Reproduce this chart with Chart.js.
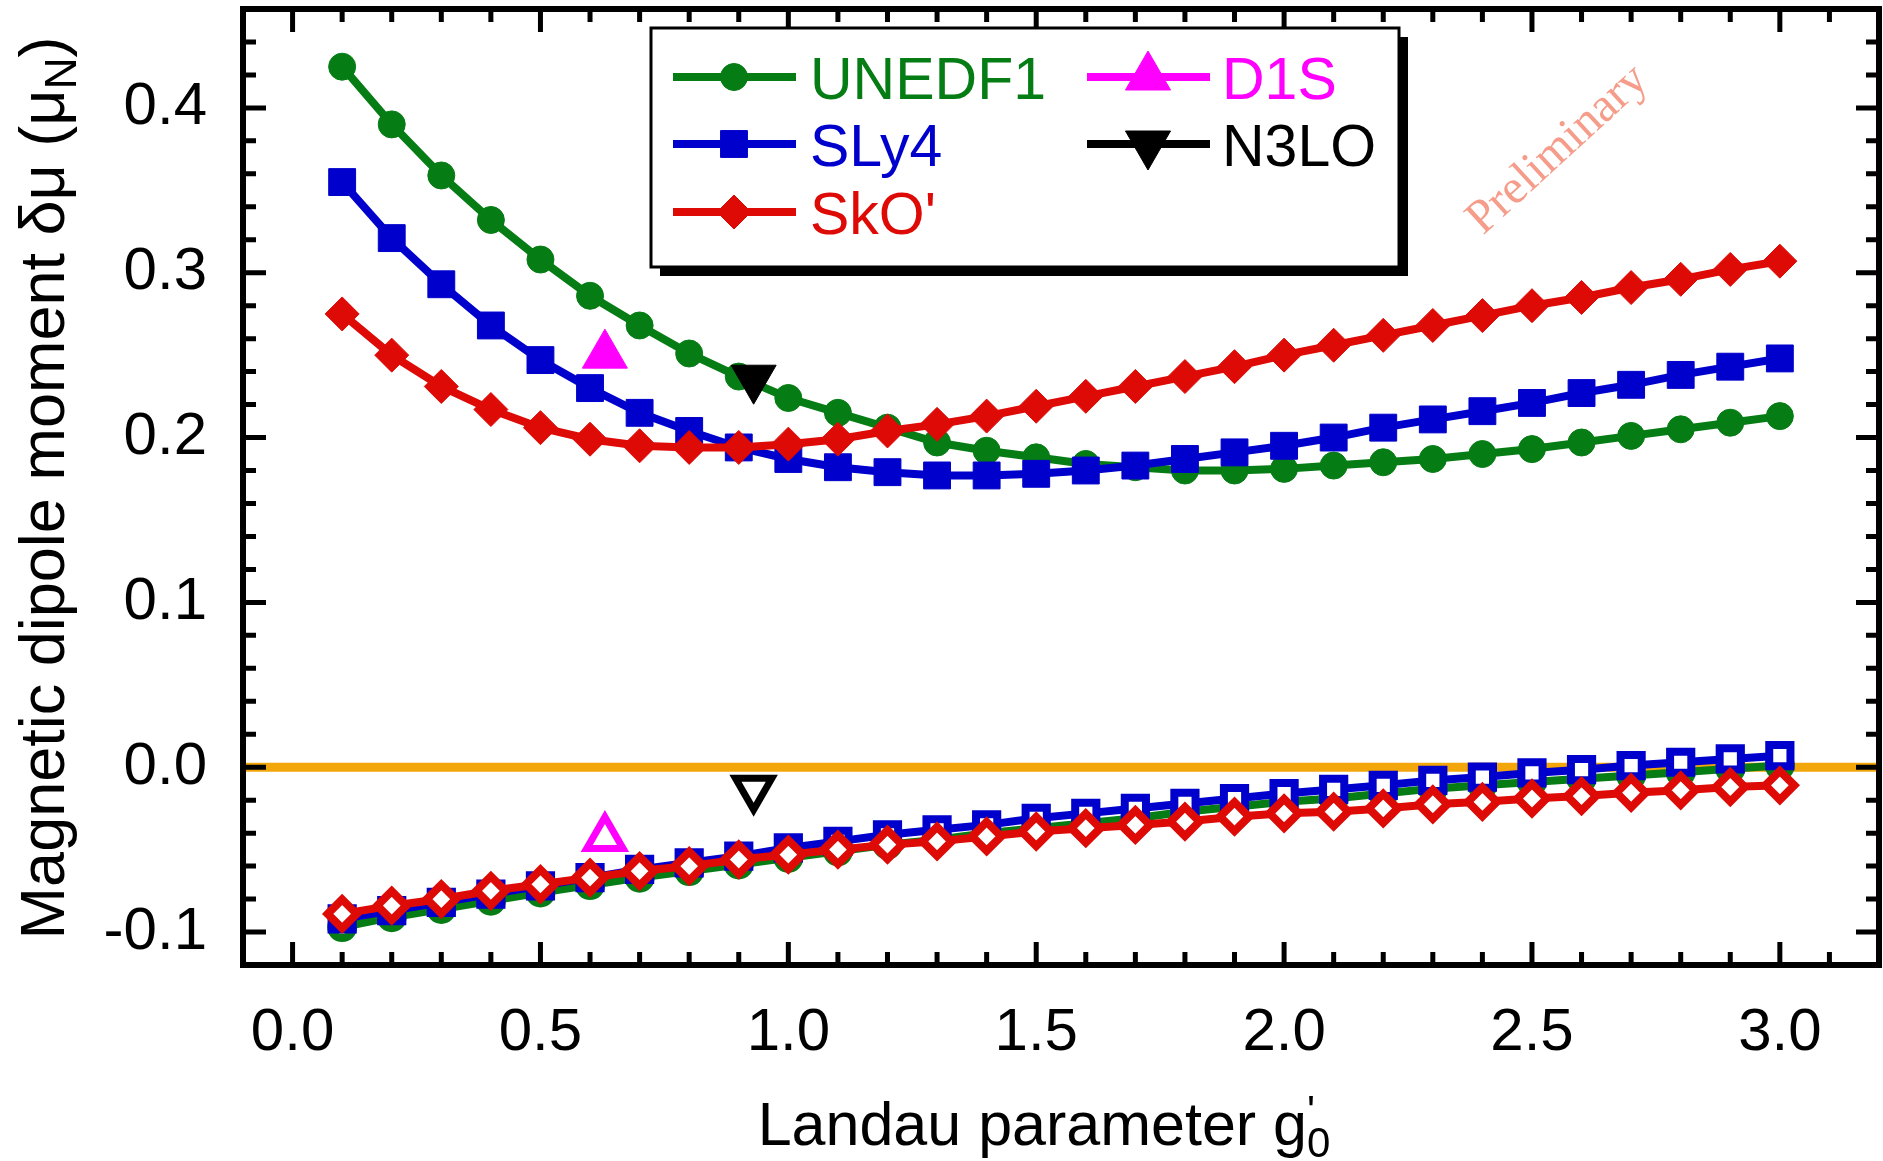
<!DOCTYPE html>
<html lang="en">
<head>
<meta charset="UTF-8">
<title>Magnetic dipole moment vs Landau parameter</title>
<script src="https://cdn.jsdelivr.net/npm/chart.js@4.4.1/dist/chart.umd.min.js"></script>
<style>
    html, body { margin: 0; padding: 0; background: #fff; }
</style>
</head>
<body>
<canvas id="momentChart" width="1883" height="1161"></canvas>
<script>
    // Landau parameter g0' grid of the Skyrme curves
    const gValues = [0.1, 0.2, 0.3, 0.4, 0.5, 0.6, 0.7, 0.8, 0.9, 1.0,
                     1.1, 1.2, 1.3, 1.4, 1.5, 1.6, 1.7, 1.8, 1.9, 2.0,
                     2.1, 2.2, 2.3, 2.4, 2.5, 2.6, 2.7, 2.8, 2.9, 3.0];

    // upper branch (filled symbols)
    const unedf1Upper = [0.425, 0.390, 0.359, 0.332, 0.308, 0.286, 0.268, 0.251, 0.237, 0.224,
                         0.215, 0.206, 0.197, 0.192, 0.188, 0.184, 0.182, 0.180, 0.180, 0.181,
                         0.183, 0.185, 0.187, 0.190, 0.193, 0.197, 0.201, 0.205, 0.209, 0.213];
    const sly4Upper = [0.355, 0.321, 0.293, 0.268, 0.247, 0.230, 0.215, 0.204, 0.194, 0.187,
                       0.182, 0.179, 0.177, 0.177, 0.178, 0.180, 0.183, 0.187, 0.191, 0.195,
                       0.200, 0.206, 0.211, 0.216, 0.221, 0.227, 0.232, 0.238, 0.243, 0.248];
    const skoUpper = [0.275, 0.250, 0.231, 0.217, 0.206, 0.199, 0.195, 0.194, 0.194, 0.196,
                      0.199, 0.204, 0.208, 0.213, 0.219, 0.225, 0.231, 0.237, 0.243, 0.250,
                      0.256, 0.262, 0.268, 0.274, 0.280, 0.285, 0.291, 0.296, 0.302, 0.307];

    // lower branch (open symbols)
    const unedf1Lower = [-0.097, -0.091, -0.086, -0.081, -0.076, -0.0715, -0.067, -0.063, -0.059, -0.055,
                         -0.051, -0.047, -0.044, -0.040, -0.037, -0.034, -0.031, -0.027, -0.024, -0.021,
                         -0.019, -0.016, -0.013, -0.011, -0.009, -0.007, -0.005, -0.003, -0.001, 0.001];
    const sly4Lower = [-0.092, -0.087, -0.082, -0.077, -0.072, -0.067, -0.062, -0.058, -0.054, -0.049,
                       -0.045, -0.041, -0.038, -0.035, -0.031, -0.028, -0.025, -0.022, -0.019, -0.016,
                       -0.0135, -0.011, -0.008, -0.006, -0.0035, -0.0015, 0.001, 0.003, 0.005, 0.007];
    const skoLower = [-0.089, -0.084, -0.080, -0.075, -0.071, -0.067, -0.063, -0.060, -0.056, -0.053,
                      -0.050, -0.047, -0.045, -0.042, -0.039, -0.037, -0.035, -0.033, -0.030, -0.028,
                      -0.027, -0.025, -0.0225, -0.021, -0.019, -0.0175, -0.0155, -0.014, -0.012, -0.011];

    // single points: D1S and N3LO
    const d1sG = [0.63];
    const d1sValues = [0.250, -0.043];
    const n3loG = [0.93];
    const n3loValues = [0.236, -0.013];

    const xTickValues = [0.0, 0.5, 1.0, 1.5, 2.0, 2.5, 3.0];
    const yTickValues = [-0.1, 0.0, 0.1, 0.2, 0.3, 0.4];

    const GREEN = '#067c14';
    const BLUE = '#0000cc';
    const RED = '#dd0a06';
    const MAGENTA = '#ff00ff';
    const ORANGE = '#f2a60a';
    const FONT = '"Liberation Sans", Arial, sans-serif';

    function toPoints(xs, ys) {
        return ys.map((y, i) => ({x: xs[i], y: y}));
    }

    function curve(label, values, color, style, filled, order, legendPos) {
        const radius = filled
            ? {circle: 13.5, rect: 19, rectRot: 17}[style]
            : {circle: 11, rect: 15, rectRot: 14.5}[style];
        return {
            label: label,
            data: toPoints(gValues, values),
            borderColor: color,
            backgroundColor: color,
            borderWidth: 8,
            pointStyle: style,
            pointRadius: radius,
            pointBorderWidth: filled ? 1 : 8,
            pointBackgroundColor: filled ? color : '#ffffff',
            pointBorderColor: color,
            tension: 0,
            order: order,
            legendPos: legendPos
        };
    }

    function single(label, g, value, color, rotation, filled, legendPos) {
        return {
            label: label,
            data: [{x: g[0], y: value}],
            showLine: false,
            borderColor: color,
            backgroundColor: color,
            pointStyle: 'triangle',
            pointRotation: rotation,
            pointRadius: filled ? 26 : 21,
            pointBorderWidth: filled ? 1 : 7,
            pointBackgroundColor: filled ? color : '#ffffff',
            pointBorderColor: color,
            order: 1,
            legendPos: legendPos
        };
    }

    const datasets = [
        {
            label: 'zero',
            data: [{x: -0.1, y: 0}, {x: 3.2, y: 0}],
            borderColor: ORANGE,
            borderWidth: 9,
            pointRadius: 0,
            order: 10
        },
        curve('UNEDF1', unedf1Lower, GREEN, 'circle', false, 6),
        curve('SLy4', sly4Lower, BLUE, 'rect', false, 5),
        curve("SkO'", skoLower, RED, 'rectRot', false, 4),
        curve('UNEDF1', unedf1Upper, GREEN, 'circle', true, 6, [0, 0]),
        curve('SLy4', sly4Upper, BLUE, 'rect', true, 5, [0, 1]),
        curve("SkO'", skoUpper, RED, 'rectRot', true, 4, [0, 2]),
        single('D1S', d1sG, d1sValues[0], MAGENTA, 0, true, [1, 0]),
        single('D1S', d1sG, d1sValues[1], MAGENTA, 0, false),
        single('N3LO', n3loG, n3loValues[0], '#000000', 180, true, [1, 1]),
        single('N3LO', n3loG, n3loValues[1], '#000000', 180, false)
    ];

    // frame with inward minor/major ticks on all four sides
    const framePlugin = {
        id: 'frame',
        afterDatasetsDraw(chart) {
            const {ctx, chartArea: a, scales: {x, y}} = chart;
            ctx.save();
            ctx.strokeStyle = '#000';
            ctx.lineWidth = 5;
            ctx.beginPath();
            for (let k = -1; k <= 32; k++) {
                const px = x.getPixelForValue(k / 10);
                const len = (k % 5 === 0 ? 20 : 10) + 3;
                ctx.moveTo(px, a.bottom); ctx.lineTo(px, a.bottom - len);
                ctx.moveTo(px, a.top); ctx.lineTo(px, a.top + len);
            }
            for (let k = -6; k <= 23; k++) {
                const py = y.getPixelForValue(k * 0.02);
                const len = (k % 5 === 0 ? 20 : 10) + 3;
                ctx.moveTo(a.left, py); ctx.lineTo(a.left + len, py);
                ctx.moveTo(a.right, py); ctx.lineTo(a.right - len, py);
            }
            ctx.stroke();
            ctx.lineWidth = 6;
            ctx.strokeRect(a.left, a.top, a.right - a.left, a.bottom - a.top);
            ctx.restore();
        }
    };

    function drawRich(ctx, parts, x, y) {
        let cx = x;
        parts.forEach(p => {
            ctx.font = p.size + 'px ' + FONT;
            ctx.fillText(p.text, cx, y + (p.dy || 0));
            if (!p.stack) cx += ctx.measureText(p.text).width;
        });
    }

    function richWidth(ctx, parts) {
        let w = 0;
        parts.forEach(p => {
            ctx.font = p.size + 'px ' + FONT;
            if (!p.stack) w += ctx.measureText(p.text).width;
        });
        return w;
    }

    // axis titles, legend box and watermark
    const decorPlugin = {
        id: 'decor',
        afterDraw(chart) {
            const ctx = chart.ctx;
            ctx.save();
            ctx.fillStyle = '#000';
            ctx.textBaseline = 'alphabetic';
            ctx.textAlign = 'left';

            const yTitle = [
                {text: 'Magnetic dipole moment δμ (μ', size: 63},
                {text: 'N', size: 44, dy: 12},
                {text: ')', size: 63}
            ];
            ctx.save();
            ctx.translate(64, 488);
            ctx.rotate(-Math.PI / 2);
            drawRich(ctx, yTitle, -richWidth(ctx, yTitle) / 2, 0);
            ctx.restore();

            const xTitle = [
                {text: 'Landau parameter g', size: 61},
                {text: "'", size: 42, dy: -20, stack: true},
                {text: '0', size: 42, dy: 12}
            ];
            drawRich(ctx, xTitle, 1044 - richWidth(ctx, xTitle) / 2, 1145);

            // legend
            const box = {x: 651, y: 28, w: 748, h: 239};
            ctx.fillStyle = '#000';
            ctx.fillRect(box.x + 9, box.y + 9, box.w, box.h);
            ctx.fillStyle = '#fff';
            ctx.fillRect(box.x, box.y, box.w, box.h);
            ctx.lineWidth = 3;
            ctx.strokeStyle = '#000';
            ctx.strokeRect(box.x, box.y, box.w, box.h);

            const colLine = [673, 1087];
            const colText = [810, 1222];
            const rowY = [77, 144, 212];
            chart.data.datasets.forEach(ds => {
                if (!ds.legendPos) return;
                const [c, r] = ds.legendPos;
                const yy = rowY[r];
                ctx.strokeStyle = ds.borderColor;
                ctx.lineWidth = 8;
                ctx.beginPath();
                ctx.moveTo(colLine[c], yy);
                ctx.lineTo(colLine[c] + 123, yy);
                ctx.stroke();
                ctx.fillStyle = ds.pointBackgroundColor;
                ctx.lineWidth = 1;
                Chart.helpers.drawPoint(ctx, {
                    pointStyle: ds.pointStyle,
                    radius: ds.pointRadius,
                    rotation: ds.pointRotation || 0,
                    borderWidth: 1
                }, colLine[c] + 61, yy);
                ctx.fillStyle = ds.borderColor;
                ctx.font = '59px ' + FONT;
                ctx.textBaseline = 'alphabetic';
                ctx.fillText(ds.label, colText[c], yy + 22);
            });

            // watermark
            ctx.save();
            ctx.translate(1558, 150);
            ctx.rotate(-42.5 * Math.PI / 180);
            ctx.fillStyle = '#f59c8a';
            ctx.font = '48px "Liberation Serif", "DejaVu Serif", serif';
            ctx.textAlign = 'center';
            ctx.textBaseline = 'middle';
            ctx.fillText('Preliminary', 0, 0);
            ctx.restore();

            ctx.restore();
        }
    };

    const tickFont = {family: FONT, size: 60};

    new Chart(document.getElementById('momentChart'), {
        type: 'line',
        data: {datasets: datasets},
        options: {
            responsive: false,
            animation: false,
            events: [],
            layout: {padding: {left: 0, right: 4, top: 9, bottom: 0}, autoPadding: false},
            plugins: {legend: {display: false}, tooltip: {enabled: false}},
            scales: {
                x: {
                    type: 'linear',
                    min: -0.1,
                    max: 3.2,
                    grid: {display: false, drawTicks: false},
                    border: {display: false},
                    afterBuildTicks: s => { s.ticks = xTickValues.map(v => ({value: v})); },
                    afterFit: s => {
                        s.height = 196;
                        s.paddingLeft = 0; s.paddingRight = 0;
                        s.paddingTop = 0; s.paddingBottom = 0;
                    },
                    ticks: {
                        font: tickFont, color: '#000', padding: 32,
                        maxRotation: 0, autoSkip: false,
                        callback: v => v.toFixed(1)
                    }
                },
                y: {
                    type: 'linear',
                    min: -0.12,
                    max: 0.46,
                    grid: {display: false, drawTicks: false},
                    border: {display: false},
                    afterBuildTicks: s => { s.ticks = yTickValues.map(v => ({value: v})); },
                    afterFit: s => {
                        s.width = 243;
                        s.paddingLeft = 0; s.paddingRight = 0;
                        s.paddingTop = 0; s.paddingBottom = 0;
                    },
                    ticks: {
                        font: tickFont, color: '#000', padding: 36,
                        autoSkip: false,
                        callback: v => v.toFixed(1)
                    }
                }
            }
        },
        plugins: [framePlugin, decorPlugin]
    });
</script>
</body>
</html>
